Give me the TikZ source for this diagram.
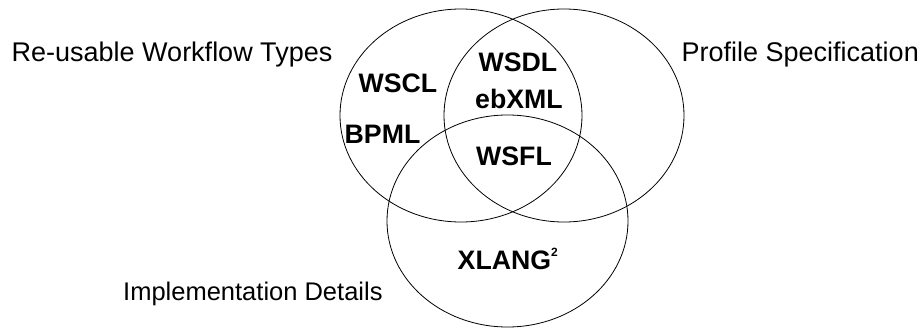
\documentclass[tikz,border=0pt]{standalone}
\usepackage{fontspec}
\setmainfont{Liberation Sans}
\usetikzlibrary{shapes.geometric}
\tikzset{
  setc/.style={ellipse, draw=black, line width=0.8pt, inner sep=0pt,
    minimum width=#1},
  lbl/.style={anchor=base west, inner sep=0pt, font=\fontsize{#1}{31}\selectfont},
  lbl/.default=27,
  item/.style={anchor=base west, inner sep=0pt, font=\fontsize{26.7}{31}\selectfont\bfseries},
}
\begin{document}
\begin{tikzpicture}[x=1pt, y=-1pt]
\useasboundingbox (0,0) rectangle (919,329);
\node[setc=242pt, minimum height=213pt] (reuse) at (461,115.5) {};
\node[setc=240pt, minimum height=213pt] (profile) at (564,115.5) {};
\node[setc=241pt, minimum height=212pt] (impl) at (507.5,221) {};
\node[lbl] (treuse) at (11.5,61.7) {Re-usable Workflow Types};
\node[lbl] (tprofile) at (681.5,61.7) {Profile Specification};
\node[lbl=25.5] (timpl) at (123,300.5) {Implementation Details};
\node[item] (wscl) at (358.5,92.7) {WSCL};
\node[item] (bpml) at (344.5,143.3) {BPML};
\node[item] (wsdl) at (478.5,71.7) {WSDL};
\node[item] (ebxml) at (475,108.3) {ebXML};
\node[item] (wsfl) at (476,165.7) {WSFL};
\node[item] (xlang) at (457.5,269.3) {XLANG\raisebox{12.5pt}{\fontsize{12}{12}\selectfont\bfseries 2}};
\end{tikzpicture}
\end{document}
